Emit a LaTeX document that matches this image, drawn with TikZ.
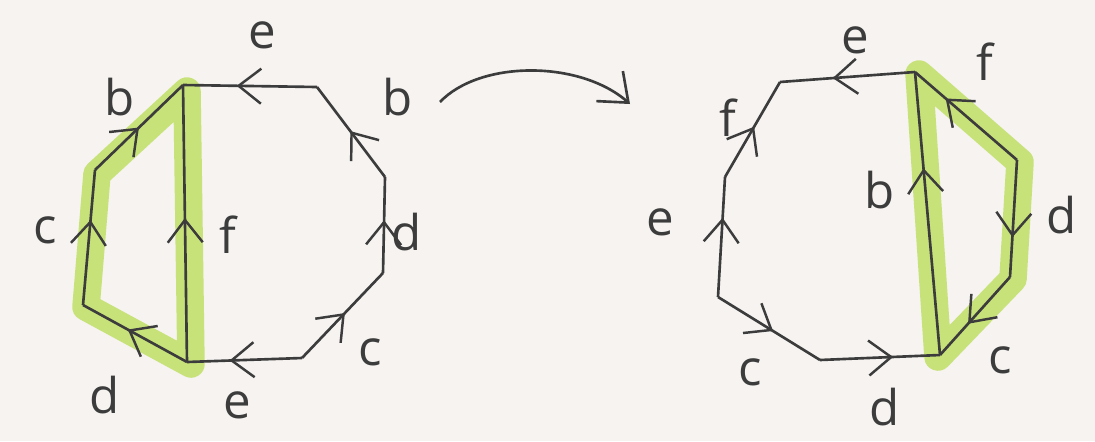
\documentclass[tikz,border=0pt]{standalone}
\usepackage{fontspec}
\setmainfont{Open Sans}
\usetikzlibrary{arrows.meta, decorations.markings}
\definecolor{ink}{HTML}{3C3C3C}
\definecolor{marker}{HTML}{C8E27A}
\definecolor{paper}{HTML}{F6F3F1}

\begin{document}
\begin{tikzpicture}[
  x=0.02cm, y=-0.02cm,
  edge/.style={draw=ink, color=ink, line width=1.5pt, line join=round},
  fwd/.style={edge, postaction={decorate},
    decoration={markings, mark=at position #1 with {\arrow{Straight Barb[length=4.5mm, width=7mm, line width=1.4pt]}}}},
  fwd/.default=0.55,
  hl/.style={draw=marker, line width=0.55cm, line join=round},
  lbl/.style={text=ink, font=\fontsize{28}{30}\selectfont, inner sep=0pt},
]
% paper
\fill[paper] (0,0) rectangle (1095,441);
\useasboundingbox (0,0) rectangle (1095,441);

% Left octagon: corners
\coordinate (lA) at (183,85);
\coordinate (lT) at (317,87);
\coordinate (lR1) at (385,177);
\coordinate (lR2) at (383,273);
\coordinate (lBR) at (302,358);
\coordinate (lB) at (187,362);
\coordinate (lL2) at (83,305);
\coordinate (lL1) at (95,170);

% Right octagon: corners
\coordinate (rTL) at (780,82);
\coordinate (rT) at (915,72);
\coordinate (rL1) at (725,177);
\coordinate (rL2) at (718,297);
\coordinate (rB) at (820,360);
\coordinate (rBR) at (940,355);
\coordinate (rR1) at (1017,160);
\coordinate (rR2) at (1010,277);

% Highlighter under the cut-off pieces
\draw[hl] ([shift={(4,6)}]lA) -- ([shift={(2,4)}]lL1) -- ([shift={(3,2)}]lL2) -- ([shift={(4,2)}]lB) -- cycle;
\draw[hl] ([shift={(4,2)}]rT) -- ([shift={(3,2)}]rR1) -- ([shift={(3,2)}]rR2) -- ([shift={(-2,2)}]rBR) -- cycle;

% Left octagon: edges
\draw[fwd=0.5] (lL1) -- (lA);
\draw[fwd=0.63] (lL2) -- (lL1);
\draw[fwd=0.57] (lB) -- (lL2);
\draw[fwd=0.52] (lB) -- (lA);
\draw[fwd=0.6] (lT) -- (lA);
\draw[fwd=0.51] (lR1) -- (lT);
\draw[fwd=0.55] (lR2) -- (lR1);
\draw[fwd=0.53] (lBR) -- (lR2);
\draw[fwd=0.63] (lBR) -- (lB);

% Right octagon: edges
\draw[fwd=0.61] (rT) -- (rTL);
\draw[fwd=0.53] (rL1) -- (rTL);
\draw[fwd=0.66] (rL2) -- (rL1);
\draw[fwd=0.54] (rL2) -- (rB);
\draw[fwd=0.61] (rB) -- (rBR);
\draw[fwd=0.66] (rBR) -- (rT);
\draw[fwd=0.7] (rR1) -- (rT);
\draw[fwd=0.66] (rR1) -- (rR2);
\draw[fwd=0.6] (rR2) -- (rBR);

% Left labels
\node[lbl] (lb1) at (120,97) {b};
\node[lbl] (le1) at (262,35) {e};
\node[lbl] (lb2) at (398,97) {b};
\node[lbl] (lc1) at (45,230) {c};
\node[lbl] (lf) at (228,235) {f};
\node[lbl] (ld1) at (407,232) {d};
\node[lbl] (lc2) at (370,352) {c};
\node[lbl] (ld2) at (105,395) {d};
\node[lbl] (le2) at (237,405) {e};

% Right labels
\node[lbl] (re1) at (855,40) {e};
\node[lbl] (rf1) at (985,62) {f};
\node[lbl] (rf2) at (728,118) {f};
\node[lbl] (rb) at (880,190) {b};
\node[lbl] (re2) at (660,222) {e};
\node[lbl] (rd1) at (1062,215) {d};
\node[lbl] (rc1) at (750,372) {c};
\node[lbl] (rc2) at (1000,360) {c};
\node[lbl] (rd2) at (885,407) {d};

% Curved arrow between the two pictures
\coordinate (goS) at (440,102);
\coordinate (goE) at (630,104);
\draw[edge, -{Straight Barb[length=5mm, width=8mm]}] (goS) .. controls (480,60) and (580,60) .. (goE);
\end{tikzpicture}
\end{document}
